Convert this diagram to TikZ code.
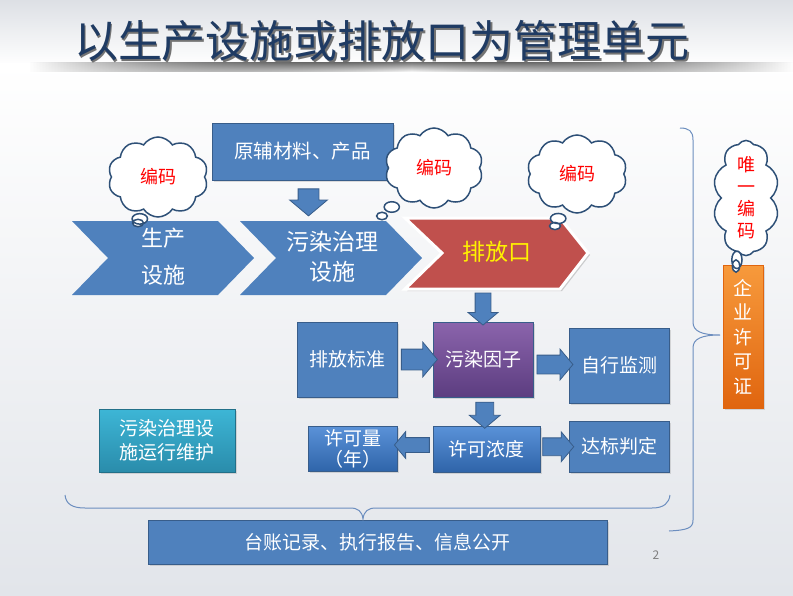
\documentclass[tikz,border=0pt]{standalone}
\usepackage{fontspec}
\setmainfont{Noto Sans CJK SC}
\usetikzlibrary{shapes.arrows,shapes.symbols,shapes.callouts,shadows,fadings,calc}
\definecolor{boxblue}{HTML}{4F81BD}
\definecolor{bordblue}{HTML}{385D8A}
\definecolor{chevred}{HTML}{C0504D}
\definecolor{titleblue}{HTML}{1F3B63}
\definecolor{purpletop}{HTML}{8B64AC}
\definecolor{purplebot}{HTML}{5C3D80}
\definecolor{cyantop}{HTML}{3DB6D6}
\definecolor{cyanbot}{HTML}{2A8CAB}
\definecolor{orangetop}{HTML}{F79A3C}
\definecolor{orangebot}{HTML}{E0650F}
\definecolor{bracecol}{HTML}{6C8EBF}
\definecolor{glosstop}{HTML}{5A92D8}
\definecolor{glossbot}{HTML}{2F64A9}
\definecolor{bgtop}{HTML}{DDE0E5}
\definecolor{bgbot}{HTML}{E2E5EA}
\definecolor{cloudline}{HTML}{2E5077}
\definecolor{pageno}{HTML}{7F7F7F}
\tikzfading[name=hfade, left color=transparent!100, right color=transparent!100, middle color=transparent!0]
\newcommand{\fs}[2]{\fontsize{#1}{#2}\selectfont}
\tikzset{
  bluebox/.style={rectangle, draw=bordblue, line width=1pt, fill=boxblue, text=white, inner sep=0pt, align=center,
    font=\fs{19}{23}, drop shadow={opacity=0.25, shadow xshift=1.5pt, shadow yshift=-1.5pt}},
  glossbox/.style={bluebox, fill=none, top color=glosstop, bottom color=glossbot},
  chevblue/.style={fill=boxblue},
  chevtext/.style={text=white, align=center, inner sep=0pt},
  barrow/.style={single arrow, draw=bordblue, line width=0.8pt, fill=boxblue,
    single arrow tip angle=100, minimum width=0pt},
  harrow/.style={barrow, inner xsep=0pt, inner ysep=#1},
  varrow/.style={barrow, inner ysep=0pt, inner xsep=#1, shape border rotate=270},
  cloudc/.style={cloud callout, cloud puffs=10, cloud puff arc=115, cloud ignores aspect, draw=cloudline,
    line width=1.5pt, fill=white, text=red, font=\fs{18}{22}, inner sep=0pt, align=center,
    callout pointer segments=2, callout pointer start size=.2 of callout, callout pointer end size=.11 of callout},
  bracestyle/.style={draw=bracecol, line width=1pt},
}
\begin{document}
\begin{tikzpicture}[x=1pt,y=-1pt]
\useasboundingbox (0,0) rectangle (793,595);
% background
\fill[top color=bgtop, bottom color=white!96!bgtop] (0,0) rectangle (793,63);
\fill[top color=white, bottom color=bgbot] (0,63) rectangle (793,595);
\fill[top color=black!55, bottom color=white, path fading=hfade] (30,62) rectangle (793,72);
% title
\node[font=\fs{44}{44}, text=black!55] at (383.5,42.5) {以生产设施或排放口为管理单元};
\node[font=\fs{44}{44}, text=titleblue] (title) at (382,41) {以生产设施或排放口为管理单元};

% raw material box
\node[bluebox, minimum width=181pt, minimum height=57pt, font=\fs{19.5}{23}] (raw) at (302.5,151.5) {原辅材料、产品};

% chevrons
\fill[chevblue] (72,221) -- (218,221) -- (254,258) -- (218,295) -- (72,295) -- (108,258) -- cycle;
\node[chevtext, font=\fs{22}{37}] (chev1) at (163,257) {生产\\设施};
\fill[chevblue] (240,221) -- (386,221) -- (422,258) -- (386,295) -- (240,295) -- (276,258) -- cycle;
\node[chevtext, font=\fs{23}{30}] (chev2) at (332,257) {污染治理\\设施};
\filldraw[fill=chevred, draw=white, line width=3pt, line join=miter,
  drop shadow={opacity=0.35, shadow xshift=2pt, shadow yshift=-2pt}]
  (405,218) -- (560,218) -- (588,253) -- (560,289) -- (405,289) -- (442,253) -- cycle;
\node[chevtext, text=yellow, font=\fs{23}{26}] (chev3) at (497,252) {排放口};
\coordinate (chev3b) at (483,290);

% arrow below raw
\node[varrow=10pt, single arrow head extend=8.5pt, minimum height=27pt] (a0) at (308.5,198) {};

% middle boxes
\node[bluebox, minimum width=100pt, minimum height=75pt] (std) at (347,359.5) {排放标准};
\node[bluebox, fill=none, top color=purpletop, bottom color=purplebot, minimum width=100pt, minimum height=75pt] (fac) at (483,359.5) {污染因子};
\node[bluebox, minimum width=100pt, minimum height=75pt] (mon) at (619,365.5) {自行监测};
\node[glossbox, minimum width=89pt, minimum height=45pt, font=\fs{19}{21}] (qty) at (352.5,449) {许可量\\（年）};
\node[glossbox, minimum width=107pt, minimum height=46pt] (conc) at (486.5,449) {许可浓度};
\node[bluebox, minimum width=100pt, minimum height=51pt] (judge) at (619,446.5) {达标判定};
\node[bluebox, fill=none, top color=cyantop, bottom color=cyanbot, draw=cyanbot!80!black, minimum width=136pt, minimum height=63pt, font=\fs{19}{24}] (ops) at (167,440.5) {污染治理设\\施运行维护};

% block arrows
\node[varrow=7.5pt, single arrow head extend=7pt, minimum height=32pt] (a1) at ($(chev3b)!0.5!(fac.north)$) {};
\node[harrow=10pt, single arrow head extend=7pt, minimum height=36pt] (a2) at ($(std.east)!0.5!(fac.west)$) {};
\node[harrow=9pt, single arrow head extend=6pt, minimum height=36pt] (a3) at ($(fac.east)!0.5!(mon.west)+(0,2)$) {};
\node[varrow=8.5pt, single arrow head extend=6.5pt, minimum height=26pt] (a4) at ($(fac.south)!0.5!(conc.north)$) {};
\node[harrow=7pt, single arrow head extend=6pt, minimum height=35pt, shape border rotate=180] (a5) at ($(conc.west)!0.5!(qty.east)+(0,-4)$) {};
\node[harrow=8.5pt, single arrow head extend=6pt, minimum height=31pt] (a6) at ($(conc.east)!0.5!(judge.west)+(0,-1)$) {};

% bottom box
\node[bluebox, minimum width=459pt, minimum height=44pt] (ledger) at (377.5,542) {台账记录、执行报告、信息公开};

% permit box
\node[bluebox, fill=none, top color=orangetop, bottom color=orangebot, draw=orangebot, minimum width=40pt, minimum height=143pt, font=\fs{19}{24.5}] (permit) at (743,336.5) {企\\业\\许\\可\\证};

% clouds
\node[cloudc, minimum width=100pt, minimum height=80pt, callout absolute pointer={(138,223)}] (c1) at (158,177) {编码};
\node[cloudc, minimum width=98pt, minimum height=80pt, callout absolute pointer={(382,216)}] (c2) at (434,168) {编码};
\node[cloudc, minimum width=100pt, minimum height=78pt, callout absolute pointer={(555,226)}] (c3) at (577,174) {编码};
\node[cloudc, minimum width=66pt, minimum height=112pt, font=\fs{18}{22}, callout absolute pointer={(736,266)},
  callout pointer start size=.2 of callout] (c4) at (746,198) {唯\\一\\编\\码};

% braces
\draw[bracestyle] (680,128) .. controls (689,128) and (693,131) .. (693,140) -- (693,322)
  .. controls (693,331) and (701,335) .. (720,335) .. controls (701,335) and (693,339) .. (693,348)
  -- (693,520) .. controls (693,528) and (688,530) .. (669,531);
\draw[bracestyle] (65,495) .. controls (66,504) and (72,508) .. (85,508) -- (350,508)
  .. controls (358,508) and (362,511) .. (363,519) .. controls (364,511) and (368,508) .. (376,508)
  -- (652,508) .. controls (664,508) and (669,503) .. (670,495);

% page number
\node[text=pageno, font=\fs{12}{12}] (pg) at (656,555) {2};
\end{tikzpicture}
\end{document}
